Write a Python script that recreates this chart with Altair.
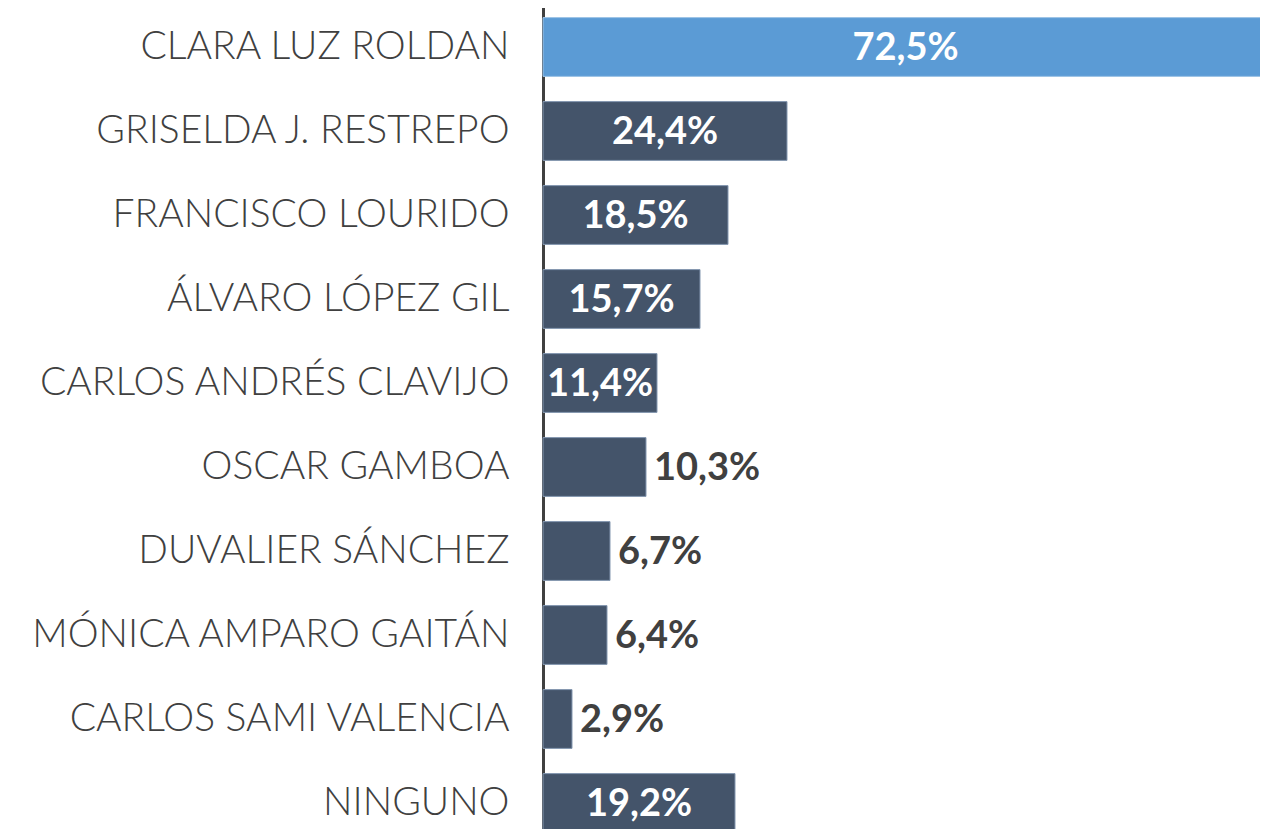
import altair as alt
import pandas as pd

names = ["CLARA LUZ ROLDAN", "GRISELDA J. RESTREPO", "FRANCISCO LOURIDO", "ÁLVARO LÓPEZ GIL",
         "CARLOS ANDRÉS CLAVIJO", "OSCAR GAMBOA", "DUVALIER SÁNCHEZ", "MÓNICA AMPARO GAITÁN",
         "CARLOS SAMI VALENCIA", "NINGUNO"]
values = [72.5, 24.4, 18.5, 15.7, 11.4, 10.3, 6.7, 6.4, 2.9, 19.2]
highlight = [True, False, False, False, False, False, False, False, False, False]

df = pd.DataFrame({"name": names, "value": values, "hl": highlight})

FONT = "Lato"
y = alt.Y("name:N", sort=names, title=None,
          scale=alt.Scale(paddingInner=0.3, paddingOuter=0.15),
          axis=alt.Axis(domainColor="#404040", domainWidth=3, ticks=False,
                        labelFont=FONT, labelFontSize=39, labelColor="#404040",
                        labelPadding=34, labelFontWeight=300, labelLimit=600))
x = alt.X("value:Q", scale=alt.Scale(domain=[0, 72.5], nice=False, zero=True), axis=None)

base = alt.Chart(df).transform_calculate(
    lbl="replace(format(datum.value, '.1f'), '.', ',') + '%'",
    half="datum.value / 2"
)

bars = base.mark_bar(strokeWidth=1).encode(
    x=x, y=y,
    color=alt.Color("hl:N", scale=alt.Scale(domain=[True, False], range=["#5B9BD5", "#44546A"]), legend=None),
    stroke=alt.Stroke("hl:N", scale=alt.Scale(domain=[True, False], range=["#9DC3E6", "#8497B0"]), legend=None),
)

inside = base.transform_filter("datum.value >= 11").mark_text(
    font=FONT, fontWeight="bold", fontSize=38, color="white", align="center", baseline="middle", dy=2
).encode(x=alt.X("half:Q", scale=alt.Scale(domain=[0, 72.5], nice=False)), y=alt.Y("name:N", sort=names), text="lbl:N")

outside = base.transform_filter("datum.value < 11").mark_text(
    font=FONT, fontWeight="bold", fontSize=38, color="#404040", align="left", baseline="middle", dx=8, dy=2
).encode(x=alt.X("value:Q", scale=alt.Scale(domain=[0, 72.5], nice=False)), y=alt.Y("name:N", sort=names), text="lbl:N")

chart = alt.layer(bars, inside, outside).properties(
    width=725, height=840,
    autosize=alt.AutoSizeParams(type="none"),
    padding={"left": 535, "top": -3, "right": -8, "bottom": -16},
).configure_view(stroke=None)

chart.save("out.html", embed_options={"renderer": "svg", "actions": False})
